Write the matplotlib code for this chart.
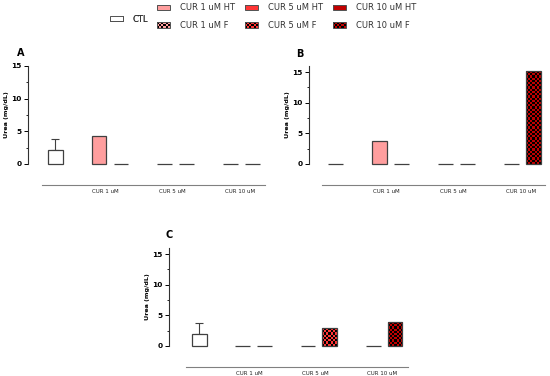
import numpy as np
import matplotlib
matplotlib.use('Agg')
import matplotlib.pyplot as plt
from matplotlib.patches import Rectangle
from matplotlib.legend_handler import HandlerBase
from matplotlib.ticker import MultipleLocator
from matplotlib.colors import to_rgb

# data
series = ['CTL', 'CUR 1 uM HT', 'CUR 1 uM F', 'CUR 5 uM HT', 'CUR 5 uM F', 'CUR 10 uM HT', 'CUR 10 uM F']
groups = ['CUR 1 uM', 'CUR 5 uM', 'CUR 10 uM']
urea_a = [2.1, 4.25, 0, 0, 0, 0, 0]
urea_b = [0, 3.7, 0, 0, 0, 0, 15.15]
urea_c = [1.9, 0, 0, 0, 2.9, 0, 3.85]
ctl_err_a = 1.8
ctl_err_b = 0
ctl_err_c = 1.9

colors = ['white', '#FF9E9E', '#FF9E9E', '#FF3535', '#FF3535', '#C00000', '#C00000']
checked = [False, False, True, False, True, False, True]
xpos = [0, 2, 3, 5, 6, 8, 9]
group_pos = [2.3, 5.35, 8.4]
EDGE = '#404040'
W, H = 550, 376


def checker_fill(ax, bar, color, cell=2.2):
    x0, w, h = bar.get_x(), bar.get_width(), bar.get_height()
    p0 = ax.transData.transform((x0, 0))
    p1 = ax.transData.transform((x0 + w, h))
    nx = max(1, round((p1[0] - p0[0]) / cell))
    ny = max(1, round((p1[1] - p0[1]) / cell))
    grid = np.add.outer(np.arange(ny), np.arange(nx)) % 2
    img = np.where(grid[..., None] == 0, np.array(to_rgb(color)), 0.0)
    im = ax.imshow(img, extent=(x0, x0 + w, 0, h), aspect='auto',
                   interpolation='nearest', zorder=2)
    im.set_clip_path(bar)


class SwatchHandler(HandlerBase):
    def create_artists(self, legend, orig_handle, xdescent, ydescent,
                       width, height, fontsize, trans):
        x0, y0 = -xdescent, -ydescent
        arts = [Rectangle((x0, y0), width, height, facecolor=orig_handle.get_facecolor(),
                          edgecolor='none', transform=trans)]
        if getattr(orig_handle, 'checked', False):
            nx, ny = 6, 3
            for i in range(nx):
                for j in range(ny):
                    if (i + j) % 2 == 0:
                        arts.append(Rectangle((x0 + i * width / nx, y0 + j * height / ny),
                                              width / nx, height / ny, facecolor='black',
                                              edgecolor='none', transform=trans))
        arts.append(Rectangle((x0, y0), width, height, facecolor='none',
                              edgecolor='#505050', lw=0.7, transform=trans))
        return arts


fig = plt.figure(figsize=(5.5, 3.76), dpi=100)

# (values, ctl error, left px, right px, top px, zero px, ymax, xlim, letter)
panels = [
    (urea_a, ctl_err_a, 28, 265, 66, 164, 15, (-1.23, 9.55), 'A', (17, 53)),
    (urea_b, ctl_err_b, 309, 545, 66, 164, 16, (-1.2, 9.5), 'B', (296, 54)),
    (urea_c, ctl_err_c, 169, 408, 248, 346, 16, (-1.4, 9.6), 'C', (166, 235)),
]

for vals, err, l, r, t, z, ymax, xl, letter, lpos in panels:
    ax = fig.add_axes([l / W, 1 - z / H, (r - l) / W, (z - t) / H])
    ax.set_xlim(*xl)
    ax.set_ylim(0, ymax)
    fc = ['none' if c else col for c, col in zip(checked, colors)]
    bars = ax.bar(xpos, vals, 0.68, color=fc, edgecolor=EDGE, linewidth=0.9,
                  zorder=3, clip_on=False)
    for b, c, col in zip(bars, checked, colors):
        if c and b.get_height() > 0:
            checker_fill(ax, b, col)
    if err > 0:
        ax.errorbar(xpos[0], vals[0], yerr=[[0], [err]], fmt='none', ecolor=EDGE,
                    elinewidth=0.8, capsize=3, capthick=0.8, zorder=2.5)
    ax.set_xlim(*xl)
    ax.set_ylim(0, ymax)

    for s in ['top', 'right']:
        ax.spines[s].set_visible(False)
    ax.spines['left'].set_bounds(0, ymax)
    ax.spines['left'].set_linewidth(0.8)
    ax.spines['left'].set_color('#303030')
    ax.spines['bottom'].set_position(('outward', 15))
    ax.spines['bottom'].set_bounds(-0.6, xl[1])
    ax.spines['bottom'].set_color('#808080')
    ax.spines['bottom'].set_linewidth(0.8)

    ax.set_yticks([0, 5, 10, 15])
    ax.yaxis.set_minor_locator(MultipleLocator(2.5))
    ax.tick_params(axis='y', which='major', length=3, width=0.7, labelsize=5.3, pad=1.5)
    ax.tick_params(axis='y', which='minor', length=1.5, width=0.6)
    for lab in ax.get_yticklabels():
        lab.set_fontweight('bold')
    ax.set_xticks(group_pos)
    ax.set_xticklabels(groups, fontsize=4, color='#202020')
    ax.tick_params(axis='x', length=0, pad=3)
    ax.set_ylabel('Urea (mg/dL)', fontsize=4.6, fontweight='bold', labelpad=2,
                  family=['Liberation Sans Narrow', 'DejaVu Sans'])
    ax.patch.set_visible(False)

    fig.text(lpos[0] / W, 1 - lpos[1] / H, letter, fontsize=7, fontweight='bold',
             ha='left', va='center')

# legend
handles = []
for name, col, c in zip(series, colors, checked):
    h = Rectangle((0, 0), 1, 1, facecolor=col)
    h.checked = c
    handles.append(h)

leg_kw = dict(frameon=False, fontsize=6, handlelength=1.55, handleheight=0.6,
              handletextpad=1.2, borderpad=0, borderaxespad=0, labelcolor='#333333',
              handler_map={Rectangle: SwatchHandler()})
leg1 = fig.legend(handles[:1], series[:1], loc='center left',
                  bbox_to_anchor=(110 / W, 1 - 19 / H), **leg_kw)
leg2 = fig.legend(handles[1:], series[1:], loc='center left', ncol=3,
                  bbox_to_anchor=(157 / W, 1 - 16.5 / H), labelspacing=1.05,
                  columnspacing=1.2, **leg_kw)
fig.add_artist(leg1)

fig.savefig('out.png', dpi=100)
